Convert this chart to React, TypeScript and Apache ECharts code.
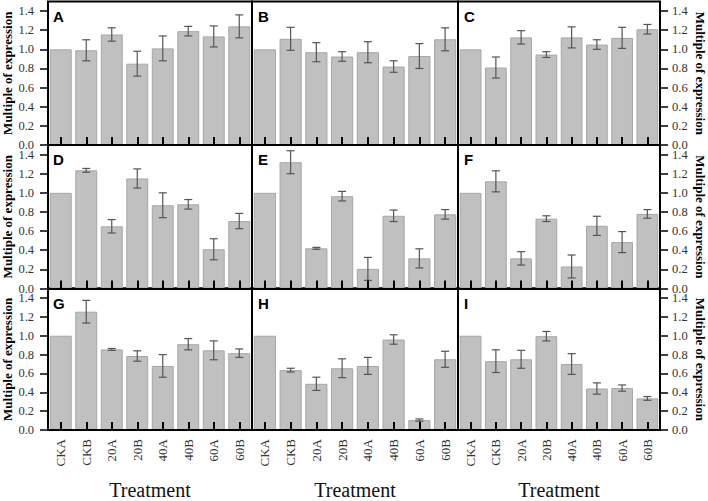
import React, { useEffect, useRef } from "react";
import * as echarts from "echarts";

const categories = ["CKA", "CKB", "20A", "20B", "40A", "40B", "60A", "60B"];
const panelLetters = ["A", "B", "C", "D", "E", "F", "G", "H", "I"];
const yTicks = [0, 0.2, 0.4, 0.6, 0.8, 1.0, 1.2, 1.4];

const meanA = [1.0, 0.99, 1.155, 0.85, 1.01, 1.19, 1.135, 1.24];
const errA = [0, 0.11, 0.07, 0.13, 0.13, 0.05, 0.11, 0.12];
const meanB = [1.0, 1.11, 0.97, 0.925, 0.97, 0.82, 0.93, 1.105];
const errB = [0, 0.12, 0.1, 0.05, 0.11, 0.06, 0.13, 0.12];
const meanC = [1.0, 0.81, 1.125, 0.945, 1.125, 1.05, 1.12, 1.21];
const errC = [0, 0.11, 0.07, 0.03, 0.11, 0.05, 0.11, 0.05];
const meanD = [1.0, 1.235, 0.65, 1.15, 0.87, 0.88, 0.41, 0.705];
const errD = [0, 0.02, 0.07, 0.1, 0.13, 0.05, 0.11, 0.08];
const meanE = [1.0, 1.32, 0.42, 0.965, 0.205, 0.76, 0.315, 0.775];
const errE = [0, 0.12, 0.01, 0.05, 0.12, 0.06, 0.1, 0.05];
const meanF = [1.0, 1.12, 0.315, 0.73, 0.23, 0.655, 0.485, 0.78];
const errF = [0, 0.11, 0.07, 0.03, 0.12, 0.1, 0.11, 0.045];
const meanG = [1.0, 1.255, 0.855, 0.785, 0.68, 0.91, 0.845, 0.815];
const errG = [0, 0.12, 0.01, 0.055, 0.12, 0.06, 0.1, 0.045];
const meanH = [1.0, 0.635, 0.49, 0.655, 0.68, 0.96, 0.105, 0.75];
const errH = [0, 0.02, 0.07, 0.1, 0.09, 0.05, 0.012, 0.085];
const meanI = [1.0, 0.73, 0.75, 0.995, 0.7, 0.44, 0.445, 0.335];
const errI = [0, 0.12, 0.095, 0.05, 0.11, 0.06, 0.033, 0.02];

const means = [meanA, meanB, meanC, meanD, meanE, meanF, meanG, meanH, meanI];
const errs = [errA, errB, errC, errD, errE, errF, errG, errH, errI];

const SERIF = "Liberation Serif";
const SANS = "Liberation Sans";

export default function App() {
  const ref = useRef<HTMLDivElement>(null);
  useEffect(() => {
    if (!ref.current) return;
    const chart = echarts.init(ref.current, undefined, { renderer: "svg" });
    const colLeft = [47, 252, 458];
    const colWidth = [205, 206, 204];
    const rowTop = [1.5, 145, 288.6];
    const rowH = 143.5;

    const grids: any[] = [];
    const xAxes: any[] = [];
    const yAxes: any[] = [];
    const series: any[] = [];
    const graphics: any[] = [];

    for (let p = 0; p < 9; p++) {
      const r = Math.floor(p / 3);
      const c = p % 3;
      grids.push({
        left: colLeft[c],
        top: rowTop[r],
        width: colWidth[c],
        height: rowH,
        show: true,
        borderColor: "#000",
        borderWidth: 2,
        backgroundColor: "transparent",
      });
      xAxes.push({
        type: "category",
        gridIndex: p,
        data: categories,
        axisLine: { show: true, lineStyle: { color: "#000", width: 2 } },
        axisTick: {
          show: true,
          inside: true,
          alignWithLabel: true,
          length: 8,
          lineStyle: { color: "#000", width: 2 },
        },
        axisLabel: {
          show: r === 2,
          rotate: 90,
          margin: 9,
          fontFamily: SERIF,
          fontSize: 13,
          color: "#333",
        },
        name: r === 2 ? "Treatment" : "",
        nameLocation: "middle",
        nameGap: 50,
        nameTextStyle: { fontFamily: SERIF, fontSize: 20, color: "#111" },
        z: 5,
      });
      const showY = c !== 1;
      yAxes.push({
        type: "value",
        gridIndex: p,
        min: 0,
        max: 1.5,
        position: c === 2 ? "right" : "left",
        splitLine: { show: false },
        axisLine: { show: false },
        axisTick: {
          show: showY,
          inside: false,
          length: 8,
          customValues: yTicks,
          lineStyle: { color: "#000", width: 1.5 },
        },
        axisLabel: {
          show: showY,
          customValues: yTicks,
          margin: c === 2 ? 12 : 14,
          fontFamily: SERIF,
          fontSize: 12.5,
          color: "#333",
          formatter: (v: number) => v.toFixed(1),
        },
        name: showY ? "Multiple of expression" : "",
        nameLocation: "middle",
        nameGap: 34,
        nameRotate: c === 2 ? -90 : 90,
        nameTextStyle: {
          fontFamily: SERIF,
          fontSize: 13,
          fontWeight: "bold",
          color: "#000",
        },
      });
      series.push({
        type: "bar",
        xAxisIndex: p,
        yAxisIndex: p,
        data: means[p],
        barWidth: "86%",
        itemStyle: { color: "#c0c0c0", borderColor: "#a6a6a6", borderWidth: 1 },
        silent: true,
      });
      series.push({
        type: "custom",
        xAxisIndex: p,
        yAxisIndex: p,
        data: means[p].map((m, i) => [i, m, errs[p][i]]),
        z: 4,
        renderItem: (params: any, api: any) => {
          const i = api.value(0);
          const m = api.value(1);
          const e = api.value(2);
          if (!e) return { type: "group", children: [] };
          const top = api.coord([i, m + e]);
          const bot = api.coord([i, m - e]);
          const hw = 4;
          const style = { stroke: "#555", lineWidth: 1.2 };
          return {
            type: "group",
            children: [
              { type: "line", shape: { x1: top[0], y1: top[1], x2: bot[0], y2: bot[1] }, style },
              { type: "line", shape: { x1: top[0] - hw, y1: top[1], x2: top[0] + hw, y2: top[1] }, style },
              { type: "line", shape: { x1: bot[0] - hw, y1: bot[1], x2: bot[0] + hw, y2: bot[1] }, style },
            ],
          };
        },
      });
      graphics.push({
        type: "text",
        left: colLeft[c] + 6,
        top: rowTop[r] + 7,
        style: {
          text: panelLetters[p],
          fontFamily: SANS,
          fontWeight: "bold",
          fontSize: 15,
          fill: "#000",
        },
        z: 10,
      });
    }

    chart.setOption({
      animation: false,
      backgroundColor: "#fff",
      grid: grids,
      xAxis: xAxes,
      yAxis: yAxes,
      series,
      graphic: graphics,
    });
    return () => chart.dispose();
  }, []);
  return (
    <div
      ref={ref}
      style={{ position: "fixed", left: 0, top: 0, width: 708, height: 501 }}
    />
  );
}
